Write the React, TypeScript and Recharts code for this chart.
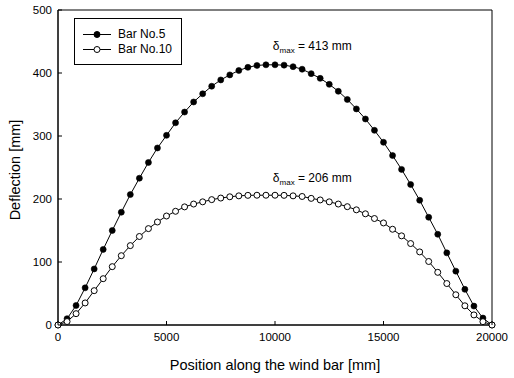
import React from 'react';
import { LineChart, Line, XAxis, YAxis, ReferenceArea, ReferenceDot, Legend, Label } from 'recharts';

const positions = [0, 417, 833, 1250, 1667, 2083, 2500, 2917, 3333, 3750, 4167, 4583, 5000, 5417, 5833, 6250, 6667, 7083, 7500, 7917, 8333, 8750, 9167, 9583, 10000, 10417, 10833, 11250, 11667, 12083, 12500, 12917, 13333, 13750, 14167, 14583, 15000, 15417, 15833, 16250, 16667, 17083, 17500, 17917, 18333, 18750, 19167, 19583, 20000];

const bar5 = [0, 10, 31, 59, 89, 120, 150, 179, 207, 233, 258, 281, 301, 321, 338, 354, 367, 379, 389, 397, 404, 409, 412, 413, 413, 412.5, 410, 406, 399, 391.5, 382, 371, 358, 343, 327, 309, 290, 269, 247, 223, 198, 171, 144, 114.5, 85.5, 56.6, 30, 11, 0];

const bar10 = [0, 5.5, 18, 35, 54.5, 73.5, 92.6, 110, 126, 140.5, 153, 163.5, 173, 180.5, 187.5, 192, 195.5, 199, 201.5, 203.5, 205, 205.8, 206, 206, 206, 205.8, 205, 204, 201, 198.5, 195.5, 192, 187.8, 182.8, 176.5, 169, 162, 152, 141.5, 129.3, 116, 100.8, 83.6, 65.8, 48, 30.5, 16, 5.3, 0];

const xTicks = [0, 5000, 10000, 15000, 20000];
const yTicks = [0, 100, 200, 300, 400, 500];
const seriesNames = ['Bar No.5', 'Bar No.10'];
const maxLabels = ['413', '206'];

const table = positions.map((x, i) => ({ x, bar5: bar5[i], bar10: bar10[i] }));

const FONT = '"Liberation Sans", Arial, sans-serif';
const X_MARGIN = 8;
const Y_MARGIN = 6;
const TICK_LEN = 4;

const XTick = (props: any) => {
  const { x, y, payload } = props;
  const axisY = y - X_MARGIN;
  return (
    <g>
      <line x1={x} x2={x} y1={axisY} y2={axisY - TICK_LEN} stroke="#000" strokeWidth={1} />
      <text x={x} y={y} dy="0.71em" textAnchor="middle" fontSize={11.5} fill="#000" fontFamily={FONT}>
        {payload.value}
      </text>
    </g>
  );
};

const YTick = (props: any) => {
  const { x, y, payload } = props;
  const axisX = x + Y_MARGIN;
  return (
    <g>
      <line x1={axisX} x2={axisX + TICK_LEN} y1={y} y2={y} stroke="#000" strokeWidth={1} />
      <text x={x} y={y} dy="0.355em" textAnchor="end" fontSize={11.5} fill="#000" fontFamily={FONT}>
        {payload.value}
      </text>
    </g>
  );
};

const XTitle = (props: any) => {
  const vb = props.viewBox || { x: 58, y: 325, width: 434, height: 30 };
  return (
    <text x={vb.x + vb.width / 2} y={vb.y + 45} textAnchor="middle" fontSize={14.5} fill="#000" fontFamily={FONT}>
      Position along the wind bar [mm]
    </text>
  );
};

const YTitle = (props: any) => {
  const vb = props.viewBox || { x: 8, y: 10, width: 50, height: 315 };
  const cx = vb.x + 12;
  const cy = vb.y + vb.height / 2 + 2.5;
  return (
    <text x={cx} y={cy} transform={`rotate(-90, ${cx}, ${cy})`} textAnchor="middle" fontSize={14.5} fill="#000" fontFamily={FONT}>
      Deflection [mm]
    </text>
  );
};

const makeAnnot = (value: string) => (p: any) => (
  <text x={p.cx} y={p.cy} fontSize={12} fill="#000" fontFamily={FONT}>
    <tspan>δ</tspan>
    <tspan fontSize={8} dy={3}>max</tspan>
    <tspan dy={-3}>{` = ${value} mm`}</tspan>
  </text>
);

const LegendBox = () => (
  <div
    style={{
      width: 108,
      height: 47,
      border: '1px solid #000',
      boxSizing: 'border-box',
      background: '#fff',
      fontFamily: FONT,
      fontSize: 12,
      color: '#000',
      position: 'relative',
    }}
  >
    {seriesNames.map((name, i) => (
      <div key={name} style={{ position: 'absolute', left: 8, top: 8 + i * 15, height: 15, display: 'flex', alignItems: 'center' }}>
        <svg width={28} height={15} style={{ display: 'block' }}>
          <line x1={0} x2={28} y1={7.5} y2={7.5} stroke="#000" strokeWidth={1} />
          <circle cx={14} cy={7.5} r={3} fill={i === 0 ? '#000' : '#fff'} stroke="#000" strokeWidth={1} />
        </svg>
        <span style={{ marginLeft: 7, lineHeight: '15px', whiteSpace: 'nowrap' }}>{name}</span>
      </div>
    ))}
  </div>
);

export default function App() {
  return (
    <div style={{ position: 'absolute', left: 0, top: 0, width: 514, height: 378, background: '#fff', fontFamily: FONT }}>
      <LineChart width={514} height={378} data={table} margin={{ top: 10, right: 22, bottom: 23, left: 8 }}>
        <XAxis
          dataKey="x"
          type="number"
          domain={[0, 20000]}
          ticks={xTicks}
          height={30}
          tickSize={0}
          tickMargin={X_MARGIN}
          tickLine={false}
          tick={<XTick />}
          axisLine={{ stroke: '#000', strokeWidth: 1 }}
          interval={0}
        >
          <Label content={<XTitle />} />
        </XAxis>
        <YAxis
          type="number"
          domain={[0, 500]}
          ticks={yTicks}
          width={50}
          tickSize={0}
          tickMargin={Y_MARGIN}
          tickLine={false}
          tick={<YTick />}
          axisLine={{ stroke: '#000', strokeWidth: 1 }}
          interval={0}
        >
          <Label content={<YTitle />} />
        </YAxis>
        <ReferenceArea x1={0} x2={20000} y1={0} y2={500} fill="none" stroke="#000" strokeWidth={1} />
        <Legend
          layout="vertical"
          align="center"
          verticalAlign="middle"
          content={<LegendBox />}
          wrapperStyle={{ left: 74, top: 18, width: 108, height: 47, right: 'auto', bottom: 'auto' }}
        />
        <Line
          dataKey="bar5"
          name={seriesNames[0]}
          type="linear"
          stroke="#000"
          strokeWidth={1}
          dot={{ r: 3, fill: '#000', stroke: '#000', strokeWidth: 0.6 }}
          activeDot={false}
          isAnimationActive={false}
        />
        <Line
          dataKey="bar10"
          name={seriesNames[1]}
          type="linear"
          stroke="#000"
          strokeWidth={1}
          dot={{ r: 3, fill: '#fff', stroke: '#000', strokeWidth: 1 }}
          activeDot={false}
          isAnimationActive={false}
        />
        <ReferenceDot x={9900} y={436} r={0} shape={makeAnnot(maxLabels[0])} />
        <ReferenceDot x={9900} y={226.5} r={0} shape={makeAnnot(maxLabels[1])} />
      </LineChart>
    </div>
  );
}
